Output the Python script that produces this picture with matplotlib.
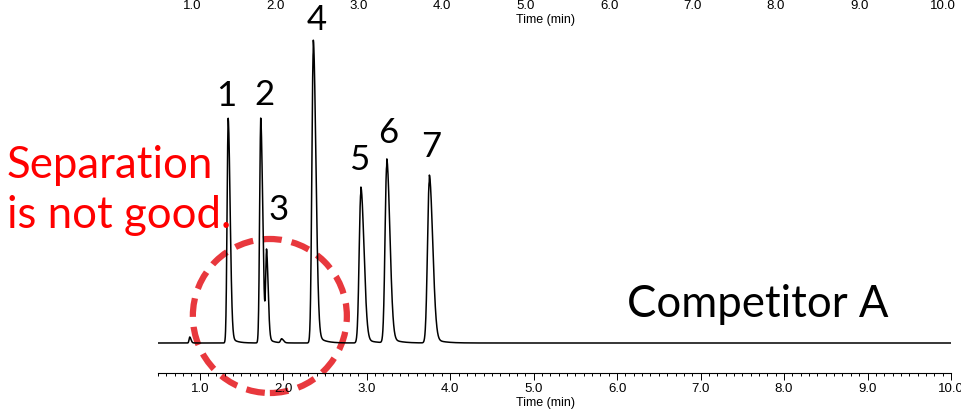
import numpy as np
import matplotlib.pyplot as plt
from matplotlib.patches import Ellipse

# Peak table (time in min, height above baseline, width sigma in min)
peak_times = [0.88, 1.34, 1.73, 1.80, 1.98, 2.36, 2.93, 3.24, 3.75]
peak_heights = [6, 225, 225, 88, 4, 303, 156, 184, 168]
peak_widths = [0.010, 0.016, 0.016, 0.013, 0.015, 0.021, 0.025, 0.025, 0.027]

# Numbered peaks and their labels
label_names = ['1', '2', '3', '4', '5', '6', '7']
label_peaks = [1, 2, 3, 5, 6, 7, 8]   # index into the peak table
label_dx = [-0.02, 0.05, 0.14, 0.04, -0.02, 0.02, 0.02]
label_dy = [22, 23, 45, 20, 27, 26, 28]

major_ticks = [1.0, 2.0, 3.0, 4.0, 5.0, 6.0, 7.0, 8.0, 9.0, 10.0]
tick_labels = ['1.0', '2.0', '3.0', '4.0', '5.0', '6.0', '7.0', '8.0', '9.0', '10.0']

W, H = 961, 411
fig = plt.figure(figsize=(W / 100, H / 100), dpi=100)
text_font = ['Lato', 'DejaVu Sans']
tick_font = ['Liberation Sans', 'DejaVu Sans']

# main axes: bottom spine at y=373px, x from 158px to 951px
ax = fig.add_axes([158 / W, 1 - 373 / H, 793 / W, 373 / H])
t = np.linspace(0.5, 10.0, 6000)
signal = np.zeros_like(t)
foot = 0.04
for tr, h, s in zip(peak_times, peak_heights, peak_widths):
    sig = np.where(t < tr, s * 0.8, s * 1.5)
    signal += (1 - foot) * h * np.exp(-0.5 * ((t - tr) / sig) ** 2)
    # small tailing foot
    signal += np.where(t > tr, foot * h * np.exp(-(t - tr) / (4 * s)), 0)
ax.plot(t, signal, color='black', linewidth=1.1)

ax.set_xlim(0.5, 10.0)
ax.set_ylim(-30, 343)
for side in ['left', 'right', 'top']:
    ax.spines[side].set_visible(False)
ax.spines['bottom'].set_linewidth(0.8)
ax.set_yticks([])
ax.set_xticks(major_ticks)
ax.set_xticklabels(tick_labels, family=tick_font, fontsize=9.5)
ax.set_xticks(np.arange(5, 101) / 10.0, minor=True)
ax.tick_params(axis='x', which='major', direction='out', length=5, width=0.7, pad=2)
ax.tick_params(axis='x', which='minor', direction='out', length=2.5, width=0.7)
ax.set_xlabel('Time (min)', family=tick_font, fontsize=9)
ax.xaxis.set_label_coords((545 - 158) / 793, -24 / 373)
ax.patch.set_alpha(0)

# peak numbers
for name, i, dx, dy in zip(label_names, label_peaks, label_dx, label_dy):
    ax.text(peak_times[i] + dx, peak_heights[i] + dy, name, family=text_font,
            fontsize=25, ha='center', va='center', clip_on=False)

# red dashed circle round peaks 2/3
circ = Ellipse((1.84, 27), 154 / 83.47, 154, fill=False, edgecolor='#e8383d',
               linewidth=4.5, linestyle=(0, (3.0, 1.6)), clip_on=False)
ax.add_patch(circ)

fig.text(7 / W, 1 - 178 / H, 'Separation', color='#ff0000', family=text_font,
         fontsize=31.5, va='baseline', ha='left')
fig.text(7 / W, 1 - 228 / H, 'is not good.', color='#ff0000', family=text_font,
         fontsize=31.5, va='baseline', ha='left')
fig.text(627 / W, 1 - 317 / H, 'Competitor A', color='black', family=text_font,
         fontsize=31.5, va='baseline', ha='left')

# cut-off axis of the chart above, only its labels show
ax2 = fig.add_axes([150 / W, 1 + 1 / H, 793 / W, 0.0001])
ax2.set_xlim(0.5, 10.0)
ax2.set_frame_on(False)
ax2.set_yticks([])
ax2.set_xticks(major_ticks)
ax2.set_xticklabels(tick_labels, family=tick_font, fontsize=9.5)
ax2.tick_params(axis='x', length=0, pad=0.5)
ax2.set_xlabel('Time (min)', family=tick_font, fontsize=9)
ax2.xaxis.set_label_coords((545 - 150) / 793, -15 / 0.0411)
ax2.patch.set_alpha(0)

fig.savefig('out.png', dpi=100)
